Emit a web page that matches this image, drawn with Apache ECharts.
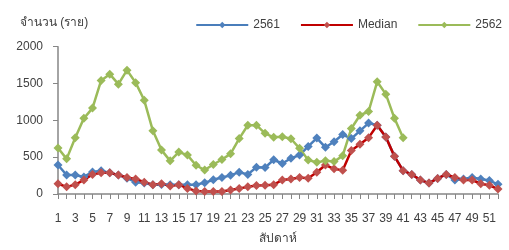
<!DOCTYPE html>
<html><head><meta charset="utf-8">
<script src="https://cdn.jsdelivr.net/npm/echarts@6/dist/echarts.min.js"></script>
<style>html,body{margin:0;padding:0;background:#fff}#c{width:509px;height:250px}</style>
</head><body><div id="c"></div>
<script>
const weeks = Array.from({length: 52}, (_, i) => String(i + 1));
const s2561 = [393,258,258,232,300,317,287,258,215,161,148,127,130,127,127,127,127,152,194,224,253,296,266,363,359,465,414,486,528,646,760,634,710,807,752,858,963,934,773,511,317,266,190,148,211,266,190,203,224,203,182,131];
const sMedian = [139,97,127,190,266,287,287,258,224,203,161,127,139,110,127,76,42,34,34,34,55,76,97,115,118,127,190,203,224,215,296,393,342,321,591,675,765,934,773,511,317,266,190,148,211,266,224,190,190,139,118,68];
const s2562 = [625,477,765,1027,1166,1542,1627,1491,1681,1512,1272,858,596,450,570,528,390,325,401,469,545,752,934,934,824,770,778,750,620,460,430,450,440,520,890,1069,1120,1525,1356,1027,765];
const yTicks = [0, 500, 1000, 1500, 2000];

const font = '"Liberation Sans", "Noto Sans", sans-serif';
const chart = echarts.init(document.getElementById('c'));
function ser(name, data, lineColor, markColor) {
  return {
    name, type: 'line', data,
    symbol: 'diamond', symbolSize: 9, showSymbol: true, showAllSymbol: true,
    lineStyle: {color: lineColor, width: 2.5},
    itemStyle: {color: markColor},
    connectNulls: false
  };
}
chart.setOption({
  animation: false,
  textStyle: {fontFamily: font},
  grid: {left: 58, right: 11, top: 46.7, bottom: 45.7},
  legend: {
    right: 2, top: 14, itemWidth: 52, itemHeight: 8, itemGap: 20,
    textStyle: {fontSize: 12, color: '#404040', fontFamily: font},
    data: ['2561', 'Median', '2562']
  },
  graphic: [{type: 'text', left: 20, top: 17, style: {text: 'จำนวน (ราย)', fontSize: 12, fill: '#404040', fontFamily: font}}],
  xAxis: {
    type: 'category', data: weeks, boundaryGap: false,
    name: 'สัปดาห์', nameLocation: 'middle', nameGap: 39,
    nameTextStyle: {fontSize: 12, color: '#404040'},
    axisLine: {lineStyle: {color: '#868686', width: 1.5}},
    axisTick: {show: true, interval: 0, length: 5, lineStyle: {color: '#868686'}},
    axisLabel: {interval: 1, margin: 19, fontSize: 12, color: '#404040'},
    splitLine: {show: false}
  },
  yAxis: {
    type: 'value', min: yTicks[0], max: yTicks[yTicks.length - 1], interval: 500,
    axisLine: {show: true, lineStyle: {color: '#868686', width: 1.5}},
    axisTick: {show: true, length: 5, lineStyle: {color: '#868686'}},
    axisLabel: {margin: 15, fontSize: 12, color: '#404040', formatter: v => String(v)},
    splitLine: {show: false}
  },
  series: [
    ser('2561', s2561, '#4A7EBB', '#4F81BD'),
    ser('Median', sMedian, '#C00000', '#C0504D'),
    ser('2562', s2562, '#9BBB59', '#9BBB59')
  ]
});
</script></body></html>
